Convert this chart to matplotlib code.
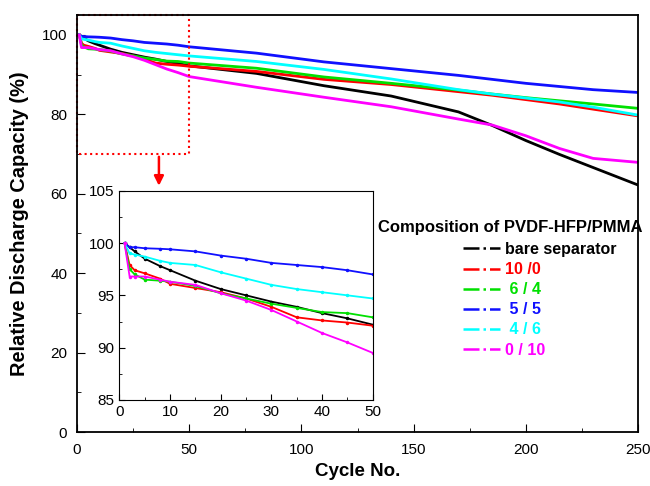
import matplotlib.pyplot as plt
from matplotlib.lines import Line2D
from matplotlib.ticker import MultipleLocator

plt.rcParams['font.family'] = ['Liberation Sans', 'DejaVu Sans']

cycles = [1, 2, 3, 5, 8, 10, 15, 20, 25, 30, 35, 40, 45, 50,
          80, 110, 140, 170, 185, 200, 215, 230, 250]

bare = [100, 99.6, 99.2, 98.5, 97.8, 97.4, 96.4, 95.6, 95.0, 94.4, 93.9, 93.3, 92.8, 92.2,
        90.3, 87.2, 84.6, 80.6, 77.2, 73.4, 69.9, 66.6, 62.2]
r10_0 = [100, 97.9, 97.4, 97.1, 96.6, 96.1, 95.7, 95.3, 94.7, 93.9, 92.9, 92.6, 92.4, 92.1,
         90.8, 88.8, 87.5, 85.7, 84.8, 83.7, 82.6, 81.3, 79.6]
r6_4 = [100, 97.5, 97.0, 96.5, 96.4, 96.3, 95.9, 95.2, 94.7, 94.2, 93.8, 93.4, 93.3, 92.9,
        91.6, 89.4, 87.8, 86.1, 85.1, 84.2, 83.4, 82.6, 81.5]
r5_5 = [100, 99.6, 99.6, 99.5, 99.45, 99.4, 99.2, 98.8, 98.5, 98.1, 97.9, 97.7, 97.4, 97.0,
        95.4, 93.2, 91.5, 89.8, 88.8, 87.8, 87.0, 86.2, 85.5]
r4_6 = [100, 99.0, 98.9, 98.7, 98.3, 98.1, 97.9, 97.2, 96.6, 96.0, 95.6, 95.3, 95.0, 94.7,
        93.3, 91.3, 88.9, 86.2, 85.1, 84.1, 83.1, 81.8, 79.8]
r0_10 = [100, 96.8, 96.8, 96.8, 96.5, 96.3, 96.0, 95.2, 94.5, 93.6, 92.5, 91.4, 90.5, 89.5,
         86.8, 84.3, 81.9, 78.8, 77.3, 74.6, 71.4, 68.9, 67.9]

series = [bare, r10_0, r6_4, r5_5, r4_6, r0_10]
labels = ['bare separator', '10 /0', ' 6 / 4', ' 5 / 5', ' 4 / 6', '0 / 10']
colors = ['black', '#ff0000', '#00e000', '#1010ff', '#00ffff', '#ff00ff']

fig = plt.figure(figsize=(6.5, 4.86), dpi=100)
ax = fig.add_axes([0.1185, 0.1111, 0.863, 0.858])

for y, c in zip(series, colors):
    ax.plot(cycles, y, color=c, lw=2)

ax.set_xlim(0, 250)
ax.set_ylim(0, 105)
ax.xaxis.set_major_locator(MultipleLocator(50))
ax.xaxis.set_minor_locator(MultipleLocator(25))
ax.yaxis.set_major_locator(MultipleLocator(20))
ax.yaxis.set_minor_locator(MultipleLocator(10))
ax.tick_params(which='both', direction='in', labelsize=11)
ax.tick_params(which='major', length=6)
ax.tick_params(which='minor', length=3)
ax.tick_params(axis='x', pad=8)
ax.tick_params(axis='y', pad=7)
for s in ax.spines.values():
    s.set_linewidth(1.3)
ax.set_xlabel('Cycle No.', fontsize=13.5, fontweight='bold', labelpad=4)
ax.set_ylabel('Relative Discharge Capacity (%)', fontsize=14.4, fontweight='bold',
              labelpad=9)

# zoom box and arrow pointing at the inset
ax.plot([0, 50, 50, 0, 0], [105, 105, 70, 70, 105], color='red', ls=':', lw=1.5,
        clip_on=False)
ax.annotate('', xy=(36.5, 61.3), xytext=(36.5, 70),
            arrowprops=dict(arrowstyle='-|>', color='red', lw=1.8, mutation_scale=14))

# inset: first 50 cycles
ins = fig.add_axes([0.1838, 0.177, 0.3896, 0.4306])
for y, c in zip(series, colors):
    ins.plot(cycles, y, color=c, lw=1.3, marker='.', ms=3)
ins.set_xlim(0, 50)
ins.set_ylim(85, 105)
ins.xaxis.set_major_locator(MultipleLocator(10))
ins.xaxis.set_minor_locator(MultipleLocator(5))
ins.yaxis.set_major_locator(MultipleLocator(5))
ins.yaxis.set_minor_locator(MultipleLocator(2.5))
ins.tick_params(which='both', direction='in', labelsize=11)
ins.tick_params(which='major', length=4)
ins.tick_params(which='minor', length=2)

handles = [Line2D([], [], color=c, ls='-.', lw=1.8) for c in colors]
fig.text(0.5815, 0.531, 'Composition of PVDF-HFP/PMMA', fontsize=12,
         fontweight='bold', va='center')
fig.legend(handles, labels, loc='upper left', bbox_to_anchor=(0.712, 0.502),
           frameon=False, labelcolor='linecolor', handlelength=2.3,
           handletextpad=0.35, labelspacing=0.32, borderpad=0, borderaxespad=0,
           prop={'weight': 'bold', 'size': 11.5})

fig.savefig('out.png', dpi=100)
